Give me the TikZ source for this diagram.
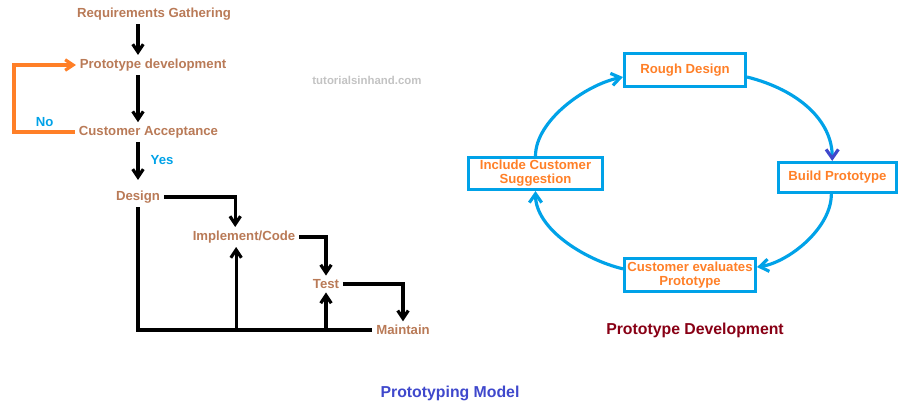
\documentclass[tikz,border=0pt]{standalone}
\usepackage{fontspec}
\setmainfont{Liberation Sans}
\usetikzlibrary{arrows.meta}
\definecolor{paintbrown}{HTML}{B97A57}
\definecolor{paintorange}{HTML}{FF7F27}
\definecolor{paintblue}{HTML}{00A2E8}
\definecolor{paintred}{HTML}{880015}
\definecolor{paintindigo}{HTML}{3F48CC}
\definecolor{paintgray}{HTML}{C3C3C3}

\begin{document}
\begin{tikzpicture}[x=0.02cm, y=-0.02cm,
    font=\fontsize{7.5}{8}\selectfont\bfseries,
    stage/.style={text=paintbrown, inner sep=2pt},
    flow/.style={line width=1.8pt, -{Straight Barb[length=4.5pt,width=6pt]}},
    phase/.style={draw=paintblue, line width=1.8pt, text=paintorange, align=center, inner sep=1pt},
    turn/.style={draw=paintblue, line width=1.8pt, -{Straight Barb[length=5pt,width=7pt]}}]
    \useasboundingbox (0,0) rectangle (909,411);

    % waterfall side
    \node[stage] (req) at (154,14) {Requirements Gathering};
    \node[stage] (proto) at (153,65) {Prototype development};
    \node[stage] (accept) at (148.5,132) {Customer Acceptance};
    \node[stage] (design) at (138,197) {Design};
    \node[stage] (impl) at (244,237) {Implement/Code};
    \node[stage] (test) at (326,284) {Test};
    \node[stage] (maint) at (403,330) {Maintain};
    \coordinate (spine) at (138,0);
    \coordinate (loop) at (14,0);
    \coordinate (implfoot) at ([xshift=-4.5pt]impl.south);

    \draw[flow] (req.south -| spine) -- (proto.north -| spine);
    \draw[flow] (proto.south -| spine) -- (accept.north -| spine);
    \draw[flow, shorten >=4pt] (accept.south -| spine) -- node[pos=0.4, right=3pt, text=paintblue] (yes) {Yes} (design.north -| spine);
    \draw[line width=1.8pt, paintorange, -{Straight Barb[length=4.5pt,width=6pt]}] (accept.west) -- node[above=-1pt, text=paintblue] (no) {No} (accept.west -| loop) |- (proto.west);
    \draw[flow] (design.east) -| ([xshift=-5pt]impl.north);
    \draw[flow] (impl.east) -| (test.north);
    \draw[flow] (test.east) -| (maint.north);
    \draw[line width=1.8pt] (design.south) |- (maint.west);
    \draw[flow] (implfoot |- maint.west) -- (implfoot);
    \draw[flow] (test.south |- maint.west) -- (test.south);

    \node[text=paintgray, font=\fontsize{6.5}{7}\selectfont\bfseries] (mark) at (367,80) {tutorialsinhand.com};

    % cycle side
    \node[phase, minimum width=2.42cm, minimum height=0.66cm] (rough) at (685,70) {Rough Design};
    \node[phase, minimum width=2.36cm, minimum height=0.6cm] (build) at (837.5,177.5) {Build Prototype};
    \node[phase, minimum width=2.62cm, minimum height=0.66cm] (evalc) at (690,275) {Customer evaluates\\Prototype};
    \node[phase, minimum width=2.68cm, minimum height=0.64cm] (incl) at (535.5,173.5) {Include Customer\\Suggestion};

    \draw[turn, -{Straight Barb[length=5pt,width=7pt,color=paintindigo]}] ([yshift=-4pt]rough.east) .. controls +(52,13) and +(0,-40) .. ([xshift=-3pt]build.north);
    \draw[turn] ([xshift=-3.5pt]build.south) .. controls +(0,34) and +(32,-5) .. ([yshift=4.5pt]evalc.east);
    \draw[turn] ([yshift=3.5pt]evalc.west) .. controls +(-38,-9) and +(0,38) .. (incl.south);
    \draw[turn] (incl.north) .. controls +(0,-35) and +(-38,8) .. ([yshift=-4pt]rough.west);

    \node[text=paintred, font=\fontsize{9}{10}\selectfont\bfseries] (cyclename) at (695,330) {Prototype Development};
    \node[text=paintindigo, font=\fontsize{9}{10}\selectfont\bfseries] (modelname) at (450,393) {Prototyping Model};
\end{tikzpicture}
\end{document}
